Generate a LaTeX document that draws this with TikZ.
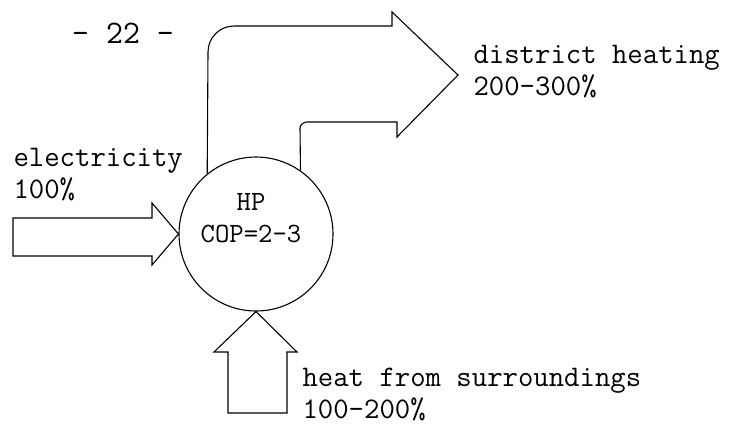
\documentclass[tikz,border=0pt]{standalone}
\usepackage{fontspec}
\begin{document}
\begin{tikzpicture}[x=1bp, y=-1bp, line width=1.1bp,
  every node/.style={font=\fontsize{30}{32}\selectfont\ttfamily, inner sep=0pt, align=left},
  hpcircle/.style={draw, circle, minimum size=154bp}]

\useasboundingbox (0,0) rectangle (730,426);

%% page number
\node[font=\fontsize{33}{36}\selectfont\ttfamily, anchor=base] (page) at (123,43) {- 22 -};

%% heat pump
\node[hpcircle] (hp) at (256,234) {};
\node[font=\fontsize{28}{32}\selectfont\ttfamily, align=center, anchor=base]
  (hplbl) at (251,242) {HP\\COP=2-3};

%% electricity in (left)
\draw (13,218) -- (152,218) -- (152,203) -- (hp.west) -- (152,265) -- (152,256)
  -- (13,256) -- cycle;
\node[anchor=base west] (elec) at (13,198) {electricity\\100\%};

%% heat from surroundings in (below)
\draw (228,413) -- (228,352) -- (214,352) -- (hp.south) -- (297,352) -- (287,352)
  -- (287,413) -- cycle;
\node[anchor=base west] (surr) at (302,418) {heat from surroundings\\100-200\%};

%% district heating out (top)
\draw (hp.129) -- (208,52) .. controls (208,37.6) and (219.6,26) .. (234,26)
  -- (392,26) -- (392,12) -- (458,75) -- (397,137) -- (397,122) -- (307,122)
  .. controls (303.7,122) and (300,124.7) .. (300,128) -- (hp.55);
\node[anchor=base west] (dh) at (473,95) {district heating\\200-300\%};

\end{tikzpicture}
\end{document}
